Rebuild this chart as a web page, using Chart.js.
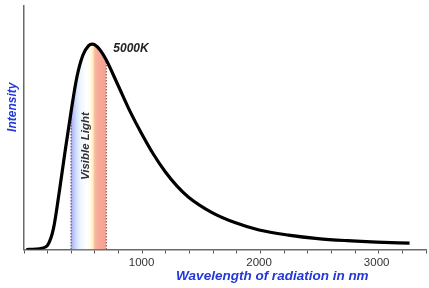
<!DOCTYPE html>
<html>
<head>
<meta charset="utf-8">
<script src="https://cdn.jsdelivr.net/npm/chart.js@4"></script>
<style>
  html, body { margin: 0; padding: 0; background: #fff; }
  #wrap { width: 429px; height: 288px; position: relative; }
</style>
</head>
<body>
<div id="wrap"><canvas id="c" width="429" height="288"></canvas></div>
<script>
// Wavelength (nm) and relative intensity
const wavelengths = [20, 100, 150, 200, 250, 300, 350, 400, 450, 500, 550, 580, 600, 650, 700, 800, 900, 1000, 1100, 1200, 1300, 1400, 1600, 1800, 2000, 2250, 2500, 2750, 3000, 3280];
const intensity   = [0, 0.2, 0.6, 2, 10, 28, 48, 67, 84, 94.5, 99.3, 100, 99.8, 97, 92.3, 80, 67.5, 56.5, 46.5, 38, 31, 25.5, 18, 13, 9.5, 7, 5.3, 4.3, 3.6, 3.1];
const visibleRange = [400, 700];
const majorTicks = [1000, 2000, 3000];
const curveLabel = '5000K';
const bandLabel = 'Visible Light';
const xTitle = 'Wavelength of radiation in nm';
const yTitle = 'Intensity';

const curve = wavelengths.map((w, i) => ({ x: w, y: intensity[i] }));
const band = curve.filter(p => p.x >= visibleRange[0] && p.x <= visibleRange[1]);
const valAt = w => intensity[wavelengths.indexOf(w)];

const FONT = '"Liberation Sans", Arial, sans-serif';
const BLUE = '#2438d8';

function bandGradient(ctx) {
  const chart = ctx.chart;
  const xs = chart.scales.x;
  if (!xs || !chart.chartArea) return 'rgba(0,0,0,0)';
  const x0 = xs.getPixelForValue(visibleRange[0]);
  const x1 = xs.getPixelForValue(visibleRange[1]);
  const g = chart.ctx.createLinearGradient(x0, 0, x1, 0);
  g.addColorStop(0.00, 'rgb(165,165,244)');
  g.addColorStop(0.06, 'rgb(185,192,250)');
  g.addColorStop(0.16, 'rgb(212,226,255)');
  g.addColorStop(0.27, 'rgb(238,247,255)');
  g.addColorStop(0.45, 'rgb(255,255,255)');
  g.addColorStop(0.55, 'rgb(255,251,236)');
  g.addColorStop(0.61, 'rgb(255,240,192)');
  g.addColorStop(0.645, 'rgb(255,216,174)');
  g.addColorStop(0.67, 'rgb(250,186,165)');
  g.addColorStop(0.76, 'rgb(248,170,152)');
  g.addColorStop(1.00, 'rgb(246,163,148)');
  return g;
}

const textPlugin = {
  id: 'texts',
  afterDatasetsDraw(chart) {
    const { ctx, scales: { x, y }, chartArea } = chart;
    ctx.save();
    // tick labels
    ctx.font = '11.5px ' + FONT;
    ctx.fillStyle = '#333';
    ctx.textAlign = 'center';
    ctx.textBaseline = 'middle';
    majorTicks.forEach(t => ctx.fillText(String(t), x.getPixelForValue(t), chartArea.bottom + 13.2));
    // 5000K label
    ctx.font = 'italic bold 12px ' + FONT;
    ctx.fillStyle = '#222';
    ctx.textAlign = 'left';
    ctx.textBaseline = 'middle';
    ctx.fillText(curveLabel, x.getPixelForValue(760), y.getPixelForValue(98));
    // Visible Light
    ctx.save();
    ctx.translate(x.getPixelForValue(525), y.getPixelForValue(50.4));
    ctx.rotate(-Math.PI / 2);
    ctx.font = 'italic bold 11.5px ' + FONT;
    ctx.fillStyle = '#333';
    ctx.textAlign = 'center';
    ctx.textBaseline = 'middle';
    ctx.fillText(bandLabel, 0, 0);
    ctx.restore();
    // Y title
    ctx.save();
    ctx.translate(chartArea.left - 11, y.getPixelForValue(69.3));
    ctx.rotate(-Math.PI / 2);
    ctx.font = 'italic bold 12px ' + FONT;
    ctx.fillStyle = BLUE;
    ctx.textAlign = 'center';
    ctx.textBaseline = 'middle';
    ctx.fillText(yTitle, 0, 0);
    ctx.restore();
    // X title
    ctx.font = 'italic bold 13.5px ' + FONT;
    ctx.fillStyle = BLUE;
    ctx.textAlign = 'center';
    ctx.textBaseline = 'middle';
    ctx.fillText(xTitle, x.getPixelForValue(2113), chartArea.bottom + 26.5);
    ctx.restore();
  }
};

new Chart(document.getElementById('c'), {
  type: 'line',
  data: {
    datasets: [
      {
        data: curve,
        borderColor: '#000',
        borderWidth: 3.2,
        pointRadius: 0,
        fill: false,
        cubicInterpolationMode: 'monotone',
        order: 0
      },
      {
        data: [{ x: visibleRange[0], y: 0 }, { x: visibleRange[0], y: valAt(visibleRange[0]) }],
        borderColor: '#4a3f7a',
        borderWidth: 1,
        borderDash: [1.5, 1.5],
        pointRadius: 0,
        fill: false,
        order: 1
      },
      {
        data: [{ x: visibleRange[1], y: 0 }, { x: visibleRange[1], y: valAt(visibleRange[1]) }],
        borderColor: '#9a3428',
        borderWidth: 1,
        borderDash: [1.5, 1.5],
        pointRadius: 0,
        fill: false,
        order: 1
      },
      {
        data: band,
        borderWidth: 0,
        borderColor: 'rgba(0,0,0,0)',
        backgroundColor: bandGradient,
        pointRadius: 0,
        fill: 'origin',
        cubicInterpolationMode: 'monotone',
        order: 2
      }
    ]
  },
  options: {
    responsive: false,
    animation: false,
    events: [],
    layout: { padding: { top: 6, right: 2, left: 0, bottom: 0 } },
    plugins: { legend: { display: false }, tooltip: { enabled: false }, title: { display: false } },
    scales: {
      x: {
        type: 'linear',
        min: 0,
        max: 3420,
        afterFit: s => { s.height = 38.5; },
        border: { display: true, color: '#6a6a6a', width: 1.5 },
        grid: { display: true, drawOnChartArea: false, drawTicks: true, tickLength: 4, color: '#555', tickWidth: 1 },
        ticks: {
          stepSize: 200,
          includeBounds: false,
          autoSkip: false,
          maxRotation: 0,
          display: true,
          color: 'rgba(0,0,0,0)',
          font: { family: FONT, size: 11.5 },
          callback: () => ''
        }
      },
      y: {
        type: 'linear',
        min: 0,
        max: 118.6,
        afterFit: s => { s.width = 24; },
        border: { display: true, color: '#6a6a6a', width: 1.5 },
        grid: { display: false },
        ticks: { display: false }
      }
    }
  },
  plugins: [textPlugin]
});
</script>
</body>
</html>
